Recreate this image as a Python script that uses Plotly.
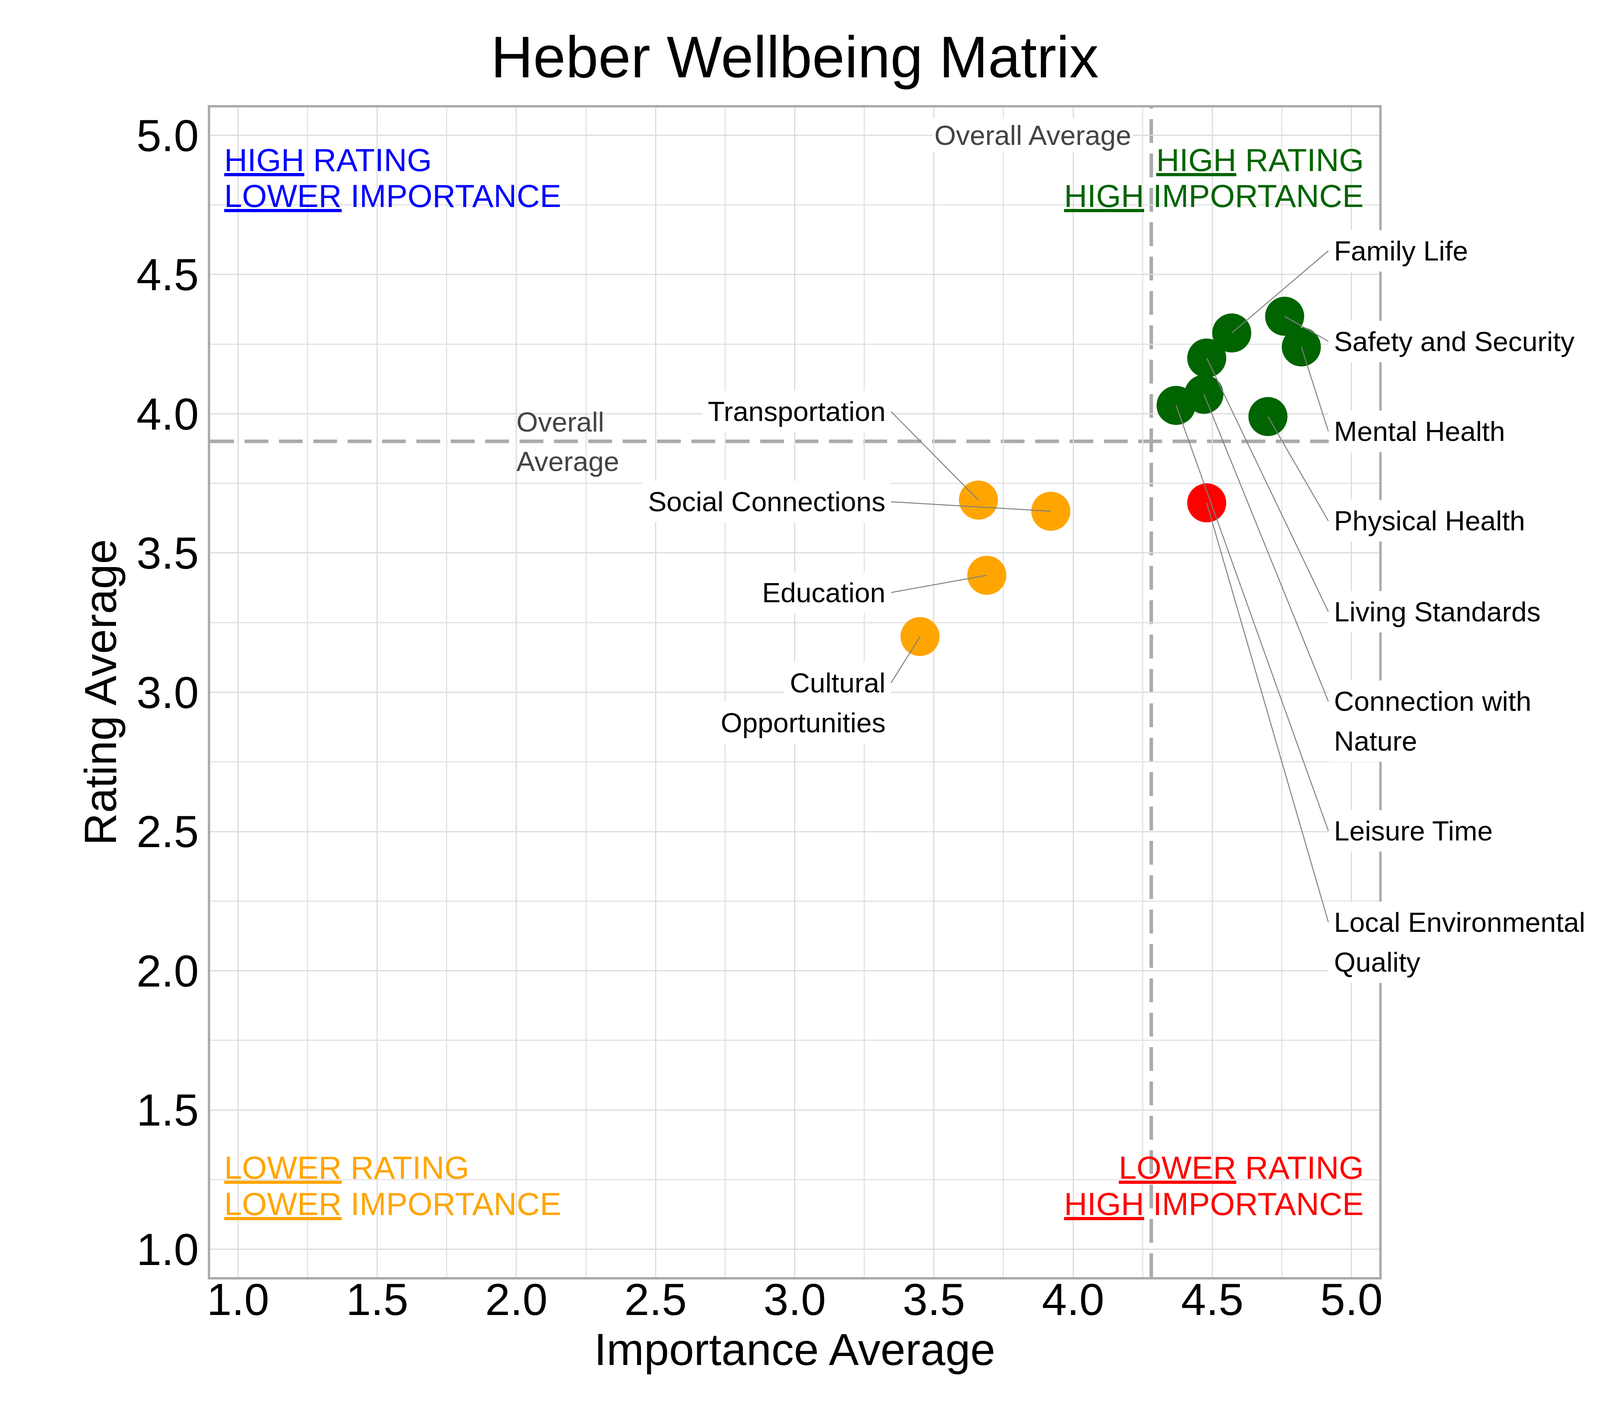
import numpy as np
import plotly.graph_objects as go

# survey averages per wellbeing domain
domains = ["Family Life", "Safety and Security", "Mental Health", "Physical Health",
           "Living Standards", "Connection with<br>Nature", "Leisure Time",
           "Local Environmental<br>Quality", "Transportation", "Social Connections",
           "Education", "Cultural<br>Opportunities"]
importance = [4.57, 4.76, 4.82, 4.70, 4.48, 4.47, 4.37, 4.48, 3.66, 3.92, 3.69, 3.45]
rating = [4.29, 4.35, 4.24, 3.99, 4.20, 4.07, 4.03, 3.68, 3.69, 3.65, 3.42, 3.20]

tick_vals = [1.0, 1.5, 2.0, 2.5, 3.0, 3.5, 4.0, 4.5, 5.0]

# where the callout boxes sit (right column / left column)
label_side = ["right"] * 8 + ["left"] * 4
label_y = [4.585, 4.26, 3.937, 3.615, 3.289, 2.896, 2.502, 2.103,
           4.008, 3.684, 3.358, 2.962]
half_line = 0.0715  # half of the gap between two wrapped label lines, in axis units

avg_x = float(np.mean(importance))
avg_y = float(np.mean(rating))

FONT = "Liberation Sans, Arial, sans-serif"
GREEN, ORANGE, RED, BLUE = "#006400", "#FFA500", "#FF0000", "#0000FF"


def quadrant_colour(x, y):
    if x >= avg_x and y >= avg_y:
        return GREEN
    if x >= avg_x:
        return RED
    if y >= avg_y:
        return BLUE
    return ORANGE


colours = [quadrant_colour(x, y) for x, y in zip(importance, rating)]

fig = go.Figure()
fig.add_trace(go.Scatter(
    x=importance, y=rating, mode="markers",
    marker=dict(size=100, color=colours, line=dict(width=0)),
    text=[d.replace("<br>", " ") for d in domains], hoverinfo="text", showlegend=False,
))

# average lines
dash = dict(color="#aaaaaa", width=9, dash="61px,27px")
fig.add_shape(type="line", x0=avg_x, x1=avg_x, y0=0, y1=1, xref="x", yref="paper",
              line=dash, layer="between")
fig.add_shape(type="line", x0=0, x1=1, y0=avg_y, y1=avg_y, xref="paper", yref="y",
              line=dash, layer="between")

grey_font = dict(size=71, color="#444444", family=FONT)
fig.add_annotation(x=avg_x, y=5.0, text="Overall Average", showarrow=False,
                   xanchor="right", yanchor="middle", xshift=-47, font=grey_font,
                   bgcolor="white", borderpad=4, borderwidth=0)
fig.add_annotation(x=2.0, y=avg_y, text="Overall", showarrow=False, yshift=50,
                   xanchor="left", yanchor="middle", font=grey_font,
                   borderpad=0, borderwidth=0)
fig.add_annotation(x=2.0, y=avg_y, text="Average", showarrow=False, yshift=-51,
                   xanchor="left", yanchor="middle", font=grey_font,
                   borderpad=0, borderwidth=0)

# callout labels with leader lines
label_font = dict(size=71, color="black", family=FONT)
for name, x, y, side, ly in zip(domains, importance, rating, label_side, label_y):
    tx = 4.917 if side == "right" else 3.346
    anchor = "left" if side == "right" else "right"
    parts = name.split("<br>")
    first_y = ly + half_line if len(parts) > 1 else ly
    if len(parts) > 1:
        fig.add_annotation(
            x=tx, y=ly - half_line, text=parts[1], showarrow=False,
            xanchor=anchor, yanchor="middle", font=label_font,
            bgcolor="white", borderpad=13, borderwidth=1, bordercolor="rgba(0,0,0,0)",
        )
    fig.add_annotation(
        x=x, y=y, ax=tx, ay=first_y, axref="x", ayref="y", text=parts[0],
        xanchor=anchor, yanchor="middle",
        showarrow=True, arrowhead=0, arrowwidth=2.5, arrowcolor="#808080",
        standoff=0, startstandoff=0, font=label_font,
        bgcolor="white", borderpad=13, borderwidth=1, bordercolor="rgba(0,0,0,0)",
    )

# quadrant captions
quads = [
    (0.951, "left", BLUE, ["<u>HIGH</u> RATING", "<u>LOWER</u> IMPORTANCE"], [4.912, 4.782]),
    (5.0435, "right", GREEN, ["<u>HIGH</u> RATING", "<u>HIGH</u> IMPORTANCE"], [4.912, 4.782]),
    (0.951, "left", ORANGE, ["<u>LOWER</u> RATING", "<u>LOWER</u> IMPORTANCE"], [1.294, 1.163]),
    (5.0435, "right", RED, ["<u>LOWER</u> RATING", "<u>HIGH</u> IMPORTANCE"], [1.294, 1.163]),
]
for qx, anchor, col, lines, ys in quads:
    for txt, qy in zip(lines, ys):
        fig.add_annotation(x=qx, y=qy, text=txt, showarrow=False,
                           xanchor=anchor, yanchor="middle",
                           font=dict(size=82, color=col, family=FONT),
                           borderpad=0, borderwidth=0)

axis_common = dict(
    range=[0.9, 5.1], tickvals=tick_vals, tickformat=".1f",
    showgrid=True, gridcolor="#dcdcdc", gridwidth=2.5,
    minor=dict(dtick=0.25, tick0=0, showgrid=True, gridcolor="#e3e3e3", gridwidth=2.5),
    showline=True, mirror=True, linecolor="#aaaaaa", linewidth=6,
    zeroline=False, ticks="",
    tickfont=dict(size=115, color="black", family=FONT),
)
fig.update_xaxes(**axis_common, ticklabelstandoff=-47,
                 title=dict(text="Importance Average", standoff=25,
                            font=dict(size=115, color="black", family=FONT)))
fig.update_yaxes(**axis_common,
                 title=dict(text="Rating Average", standoff=15,
                            font=dict(size=115, color="black", family=FONT)))

fig.update_layout(
    width=4200, height=3600,
    margin=dict(l=530, r=677, t=267, b=338),
    plot_bgcolor="white", paper_bgcolor="white",
    font=dict(family=FONT, color="black"),
    title=dict(text="Heber Wellbeing Matrix", x=0.5, xref="paper", xanchor="center",
               y=1 - 137 / 3600, yref="container", yanchor="middle",
               font=dict(size=150, color="black", family=FONT)),
    showlegend=False,
)

fig.write_html("out.html")
